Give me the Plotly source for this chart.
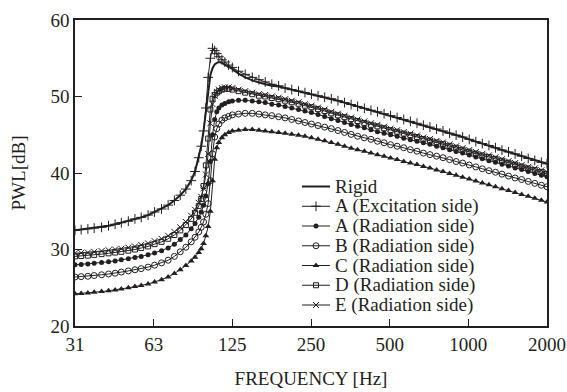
import math
import plotly.graph_objects as go

# ---------------- data ----------------
freq = [31.25, 33, 35, 37, 39.5, 42, 44.5, 47, 50, 53,
        56, 59.5, 63, 67, 71, 75, 79, 83, 87, 90,
        93, 95, 97, 99, 101, 103, 105, 107, 109, 111,
        114, 117, 121, 125, 132, 140, 149, 158, 167, 177,
        188, 199, 211, 224, 237, 251, 266, 282, 299, 317,
        336, 356, 377, 400, 424, 449, 476, 504, 534, 566,
        600, 636, 673, 713, 756, 800, 848, 898, 951, 1008,
        1068, 1131, 1199, 1270, 1345, 1425, 1510, 1600, 1695, 1796,
        1903, 2000]

a_exc = [32.5, 32.6, 32.7, 32.8, 32.9, 33.1, 33.3, 33.5, 33.7, 34.0,
         34.2, 34.5, 34.9, 35.3, 35.8, 36.4, 37.1, 37.9, 39.0, 40.2,
         42.0, 43.5, 45.5, 48.5, 52.5, 55.0, 56.3, 56.0, 55.6, 55.2,
         54.8, 54.5, 54.1, 53.8, 53.3, 52.9, 52.5, 52.2, 51.9, 51.6,
         51.4, 51.1, 50.9, 50.7, 50.5, 50.3, 50.1, 49.9, 49.7, 49.45,
         49.2, 48.95, 48.7, 48.45, 48.2, 48.0, 47.75, 47.5, 47.25, 47.0,
         46.75, 46.5, 46.25, 46.0, 45.75, 45.5, 45.2, 44.95, 44.7, 44.4,
         44.1, 43.85, 43.6, 43.3, 43.0, 42.75, 42.5, 42.2, 41.9, 41.65,
         41.4, 41.2]

rigid = [32.5, 32.6, 32.7, 32.8, 32.9, 33.1, 33.3, 33.5, 33.7, 34.0,
         34.2, 34.5, 34.9, 35.3, 35.8, 36.4, 37.1, 37.9, 39.0, 40.2,
         42.0, 43.5, 45.5, 48.0, 51.0, 52.8, 53.7, 54.2, 54.4, 54.5,
         54.4, 54.2, 53.9, 53.6, 53.0, 52.5, 52.1, 51.8, 51.6, 51.4,
         51.3, 51.1, 50.9, 50.7, 50.5, 50.3, 50.1, 49.9, 49.7, 49.45,
         49.2, 48.95, 48.7, 48.45, 48.2, 48.0, 47.75, 47.5, 47.25, 47.0,
         46.75, 46.5, 46.25, 46.0, 45.75, 45.5, 45.2, 44.95, 44.7, 44.4,
         44.1, 43.85, 43.6, 43.3, 43.0, 42.75, 42.5, 42.2, 41.9, 41.65,
         41.4, 41.2]

a_rad = [28.0, 28.05, 28.1, 28.2, 28.3, 28.4, 28.5, 28.65, 28.8, 28.95,
         29.1, 29.3, 29.55, 29.85, 30.2, 30.7, 31.3, 31.9, 32.7, 33.4,
         34.2, 34.9, 35.8, 37.0, 38.6, 41.5, 45.0, 47.0, 48.0, 48.5,
         48.9, 49.1, 49.3, 49.4, 49.5, 49.5, 49.4, 49.3, 49.2, 49.0,
         48.9, 48.7, 48.5, 48.3, 48.1, 47.9, 47.65, 47.4, 47.1, 46.85,
         46.6, 46.35, 46.1, 45.9, 45.65, 45.4, 45.2, 45.0, 44.8, 44.55,
         44.35, 44.15, 43.95, 43.75, 43.5, 43.3, 43.05, 42.8, 42.6, 42.35,
         42.1, 41.85, 41.6, 41.4, 41.15, 40.9, 40.65, 40.45, 40.2, 39.95,
         39.7, 39.5]

b_rad = [26.4, 26.45, 26.5, 26.6, 26.7, 26.8, 26.9, 27.05, 27.2, 27.35,
         27.5, 27.7, 27.95, 28.25, 28.6, 29.1, 29.7, 30.3, 31.0, 31.6,
         32.3, 32.9, 33.6, 34.6, 36.0, 39.0, 42.5, 44.7, 45.8, 46.4,
         46.9, 47.2, 47.4, 47.6, 47.7, 47.8, 47.8, 47.7, 47.6, 47.5,
         47.35, 47.2, 47.0, 46.8, 46.6, 46.4, 46.2, 46.0, 45.8, 45.55,
         45.3, 45.05, 44.8, 44.6, 44.4, 44.15, 43.95, 43.7, 43.5, 43.3,
         43.05, 42.85, 42.6, 42.4, 42.2, 42.0, 41.75, 41.5, 41.3, 41.05,
         40.8, 40.55, 40.3, 40.1, 39.85, 39.6, 39.35, 39.15, 38.9, 38.65,
         38.4, 38.2]

c_rad = [24.2, 24.25, 24.3, 24.4, 24.5, 24.6, 24.7, 24.85, 25.0, 25.15,
         25.3, 25.5, 25.75, 26.05, 26.4, 26.85, 27.35, 27.9, 28.5, 29.0,
         29.6, 30.1, 30.8, 31.8, 33.0, 35.0, 39.0, 41.8, 43.3, 44.0,
         44.6, 45.0, 45.3, 45.5, 45.6, 45.7, 45.7, 45.6, 45.5, 45.4,
         45.3, 45.2, 45.05, 44.95, 44.8, 44.6, 44.4, 44.2, 44.0, 43.75,
         43.5, 43.25, 43.05, 42.85, 42.6, 42.4, 42.2, 41.95, 41.75, 41.5,
         41.3, 41.1, 40.85, 40.65, 40.4, 40.2, 39.95, 39.7, 39.45, 39.2,
         38.95, 38.7, 38.45, 38.2, 37.95, 37.7, 37.45, 37.2, 36.95, 36.7,
         36.45, 36.2]

d_rad = [29.1, 29.15, 29.2, 29.3, 29.4, 29.5, 29.6, 29.7, 29.85, 30.0,
         30.2, 30.4, 30.7, 31.0, 31.4, 31.9, 32.5, 33.2, 34.0, 34.8,
         35.7, 36.6, 38.3, 41.0, 44.5, 48.3, 49.7, 50.2, 50.5, 50.7,
         50.9, 51.0, 51.0, 50.9, 50.7, 50.5, 50.3, 50.1, 50.0, 49.8,
         49.65, 49.45, 49.25, 49.05, 48.8, 48.6, 48.35, 48.1, 47.8, 47.55,
         47.3, 47.05, 46.8, 46.55, 46.3, 46.1, 45.85, 45.6, 45.4, 45.15,
         44.95, 44.7, 44.45, 44.25, 44.0, 43.8, 43.55, 43.3, 43.05, 42.8,
         42.55, 42.3, 42.1, 41.85, 41.6, 41.35, 41.1, 40.85, 40.6, 40.4,
         40.15, 39.9]

e_rad = [29.5, 29.55, 29.6, 29.7, 29.8, 29.9, 30.0, 30.1, 30.25, 30.4,
         30.6, 30.8, 31.1, 31.4, 31.8, 32.3, 32.9, 33.6, 34.4, 35.2,
         36.1, 36.9, 38.0, 39.8, 42.5, 46.5, 49.0, 50.1, 50.6, 50.9,
         51.1, 51.2, 51.2, 51.1, 50.9, 50.7, 50.5, 50.3, 50.2, 50.0,
         49.85, 49.65, 49.45, 49.25, 49.0, 48.8, 48.55, 48.3, 48.0, 47.75,
         47.5, 47.25, 47.0, 46.75, 46.5, 46.3, 46.05, 45.8, 45.6, 45.35,
         45.15, 44.9, 44.65, 44.45, 44.2, 44.0, 43.75, 43.5, 43.25, 43.0,
         42.75, 42.5, 42.3, 42.05, 41.8, 41.55, 41.3, 41.05, 40.8, 40.6,
         40.35, 40.1]

tick_vals = [31.25, 62.5, 125, 250, 500, 1000, 2000]
tick_text = ["31", "63", "125", "250", "500", "1000", "2000"]
y_ticks = [20, 30, 40, 50, 60]

names = ["Rigid", "A (Excitation side)", "A (Radiation side)", "B (Radiation side)",
         "C (Radiation side)", "D (Radiation side)", "E (Radiation side)"]
series = [rigid, a_exc, a_rad, b_rad, c_rad, d_rad, e_rad]

# ---------------- styles ----------------
INK = "#231f20"
FONT = "Liberation Serif, Times New Roman, serif"
styles = [
    dict(mode="lines", line=dict(color=INK, width=2)),
    dict(mode="lines+markers", line=dict(color=INK, width=1),
         marker=dict(symbol="cross-thin", size=7, line=dict(color=INK, width=1))),
    dict(mode="lines+markers", line=dict(color=INK, width=1),
         marker=dict(symbol="circle", size=5, color=INK)),
    dict(mode="lines+markers", line=dict(color=INK, width=1),
         marker=dict(symbol="circle-open", size=6, color=INK, line=dict(width=1))),
    dict(mode="lines+markers", line=dict(color=INK, width=1),
         marker=dict(symbol="triangle-up", size=6, color=INK)),
    dict(mode="lines+markers", line=dict(color=INK, width=1),
         marker=dict(symbol="square-open", size=5, color=INK, line=dict(width=1))),
    dict(mode="lines+markers", line=dict(color=INK, width=1),
         marker=dict(symbol="x-thin", size=6, line=dict(color=INK, width=1))),
]

fig = go.Figure()
draw_order = [4, 3, 2, 5, 6, 1, 0]
for i in draw_order:
    assert len(series[i]) == len(freq), names[i]
    fig.add_trace(go.Scatter(x=freq, y=series[i], name=names[i], showlegend=False,
                             hoverinfo="skip", **styles[i]))

# ---------------- manual legend (overlay axis in pixel units of plot area) ----------------
L, R, T, B = 75, 547, 20, 326
row0, dy = 186.5, 19.75
sx0, sx1, tx = 302, 330, 333
for k, nm in enumerate(names):
    yy = row0 + k * dy
    fig.add_trace(go.Scatter(x=[sx0, sx1], y=[yy, yy], xaxis="x2", yaxis="y2",
                             showlegend=False, hoverinfo="skip", mode="lines",
                             line=dict(color=INK, width=2 if k == 0 else 1)))
    if k > 0:
        fig.add_trace(go.Scatter(x=[(sx0 + sx1) / 2], y=[yy], xaxis="x2", yaxis="y2",
                                 showlegend=False, hoverinfo="skip", mode="markers",
                                 marker=styles[k]["marker"]))
    fig.add_annotation(x=tx, y=yy, xref="x2", yref="y2", text=nm, showarrow=False,
                       xanchor="left", yanchor="middle",
                       font=dict(family=FONT, size=19, color=INK))

axis_common = dict(showgrid=False, zeroline=False, showline=True, linecolor=INK,
                   linewidth=1.5, mirror=True, ticks="inside", ticklen=7,
                   tickwidth=1, tickcolor=INK, automargin=False,
                   tickfont=dict(family=FONT, size=19, color=INK))

fig.update_layout(
    width=567, height=392,
    margin=dict(l=L, r=567 - R, t=T, b=392 - B, autoexpand=False),
    paper_bgcolor="white", plot_bgcolor="white",
    showlegend=False,
    font=dict(family=FONT, size=19, color=INK),
    xaxis=dict(type="log", range=[math.log10(31.25), math.log10(2000)],
               tickvals=tick_vals, ticktext=tick_text,
               title=dict(text="FREQUENCY [Hz]", font=dict(family=FONT, size=19, color=INK),
                          standoff=18),
               **axis_common),
    yaxis=dict(range=[20, 60], tickvals=y_ticks,
               title=dict(text="PWL[dB]", font=dict(family=FONT, size=19, color=INK),
                          standoff=20),
               **axis_common),
    xaxis2=dict(overlaying="x", range=[L, R], visible=False, domain=[0, 1]),
    yaxis2=dict(overlaying="y", range=[B, T], visible=False, domain=[0, 1]),
)

fig.write_html("out.html")
